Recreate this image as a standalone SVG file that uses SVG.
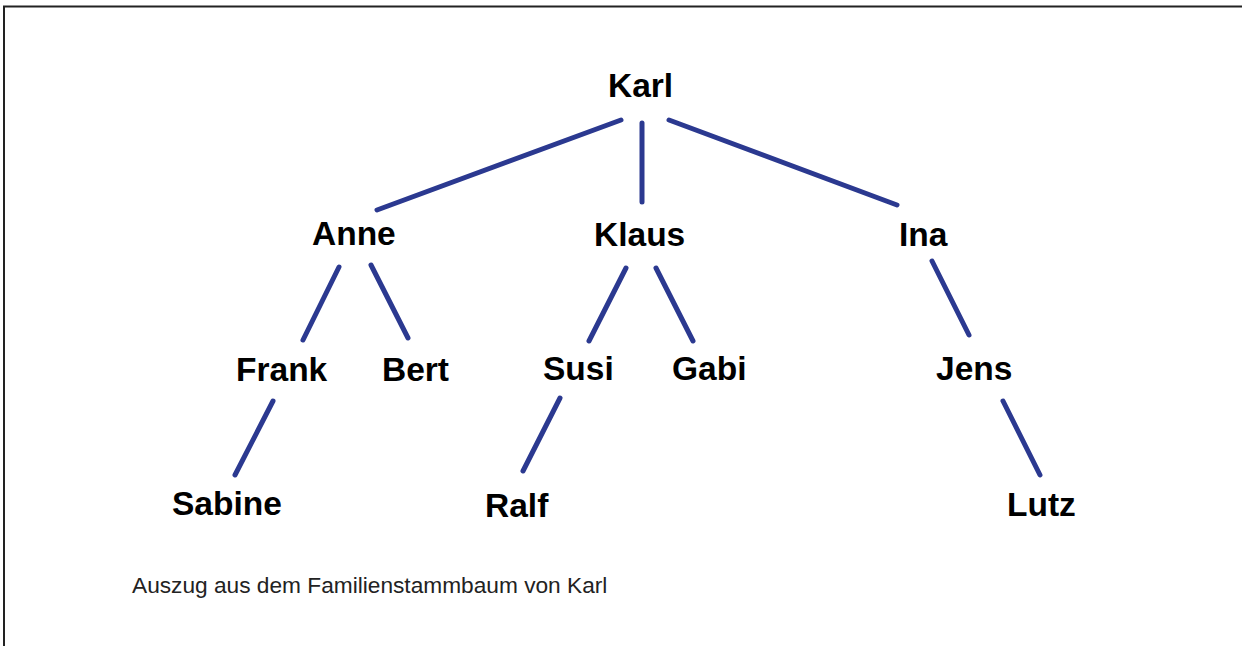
<svg xmlns="http://www.w3.org/2000/svg" width="1242" height="646" viewBox="0 0 1242 646">
<style>
.name{font-family:"Liberation Sans",Arial,sans-serif;font-weight:bold;font-size:33.5px;fill:#000}
.cap{font-family:"Liberation Sans",Arial,sans-serif;font-size:22.7px;fill:#222}
.edge{stroke:#2B3990;stroke-width:5;stroke-linecap:round;fill:none}
.frame{stroke:#222;stroke-width:2;fill:none}
</style>
<rect width="1242" height="646" fill="#fff"/>
<path class="frame" d="M4,646 V6.5 H1242"/>
<g id="connectors">
<line class="edge" x1="621" y1="120" x2="377" y2="210"/>
<line class="edge" x1="642" y1="123" x2="642" y2="202"/>
<line class="edge" x1="669" y1="120" x2="897" y2="205"/>
<line class="edge" x1="339" y1="267" x2="303" y2="340"/>
<line class="edge" x1="371" y1="265" x2="408" y2="338"/>
<line class="edge" x1="626" y1="268" x2="589" y2="341"/>
<line class="edge" x1="656" y1="268" x2="693" y2="341"/>
<line class="edge" x1="932" y1="261" x2="969" y2="335"/>
<line class="edge" x1="273" y1="401" x2="235" y2="475"/>
<line class="edge" x1="560" y1="398" x2="523" y2="471"/>
<line class="edge" x1="1003" y1="401" x2="1040" y2="475"/>
</g>
<g id="karl"><text class="name" x="608" y="97">Karl</text></g>
<g id="anne"><text class="name" x="312" y="245">Anne</text></g>
<g id="klaus"><text class="name" x="594" y="246">Klaus</text></g>
<g id="ina"><text class="name" x="899" y="246">Ina</text></g>
<g id="frank"><text class="name" x="236" y="381">Frank</text></g>
<g id="bert"><text class="name" x="382" y="381">Bert</text></g>
<g id="susi"><text class="name" x="543" y="380">Susi</text></g>
<g id="gabi"><text class="name" x="672" y="380">Gabi</text></g>
<g id="jens"><text class="name" x="936" y="380">Jens</text></g>
<g id="sabine"><text class="name" x="172" y="515">Sabine</text></g>
<g id="ralf"><text class="name" x="485" y="517">Ralf</text></g>
<g id="lutz"><text class="name" x="1007" y="516">Lutz</text></g>
<text class="cap" x="132" y="593">Auszug aus dem Familienstammbaum von Karl</text>
</svg>
